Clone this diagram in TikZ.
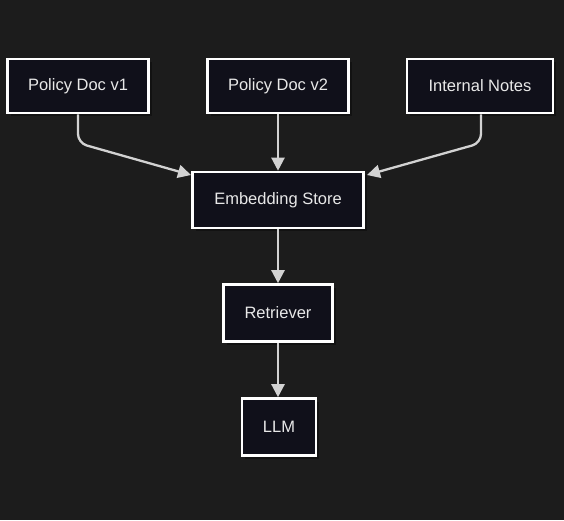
\documentclass[tikz,border=0pt]{standalone}
\usepackage{fontspec}
\setmainfont{Liberation Sans}
\usetikzlibrary{arrows.meta,shadows}
\definecolor{bg}{HTML}{1C1C1C}
\definecolor{boxfill}{HTML}{10101A}
\definecolor{edgecol}{HTML}{D2D2D2}
\definecolor{txt}{HTML}{E8E8E8}
\tikzset{
  box/.style={draw=white, line width=2.6pt, fill=boxfill, text=txt, inner sep=0pt,
    font=\fontsize{16.5}{18}\selectfont,
    drop shadow={shadow xshift=3pt, shadow yshift=-3pt, fill=black, opacity=0.35}},
  link/.style={draw=edgecol, line width=2.3pt, rounded corners=9pt,
    -{Triangle[length=13pt,width=13pt]}}
}
\begin{document}
\begin{tikzpicture}[x=1pt,y=-1pt]
\fill[bg] (0,0) rectangle (564,520);
\useasboundingbox (0,0) rectangle (564,520);
\node[box, minimum width=141pt, minimum height=54pt] (v1) at (78,86) {Policy Doc v1};
\node[box, minimum width=141pt, minimum height=54pt] (v2) at (278,86) {Policy Doc v2};
\node[box, minimum width=146pt, minimum height=54pt] (notes) at (480,86) {Internal Notes};
\node[box, minimum width=171pt, minimum height=56pt] (emb) at (278,200) {Embedding Store};
\node[box, minimum width=109pt, minimum height=57pt] (ret) at (278,313) {Retriever};
\node[box, minimum width=74pt, minimum height=57pt] (llm) at (279,427) {LLM};
\coordinate (c1) at (78,143);
\coordinate (c3) at (481,143);
\coordinate (t1) at (191,175);
\coordinate (t3) at (367,175);
\draw[link] (v1.south) -- (c1) -- (t1);
\draw[link] (notes.south -| c3) -- (c3) -- (t3);
\draw[link] (v2.south) -- (emb.north);
\draw[link] (emb.south) -- (ret.north);
\draw[link] (ret.south -| 278,0) -- (llm.north -| 278,0);
\end{tikzpicture}
\end{document}
